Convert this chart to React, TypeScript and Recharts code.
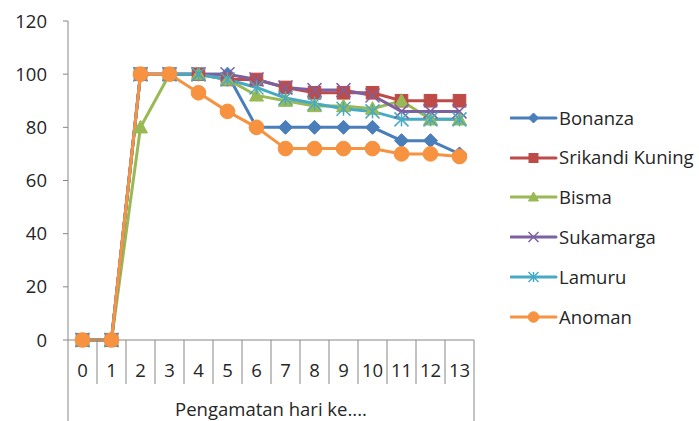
import React from 'react'
import { LineChart, Line, XAxis, YAxis, Legend } from 'recharts'

const days = ['0', '1', '2', '3', '4', '5', '6', '7', '8', '9', '10', '11', '12', '13']
const bonanza = [0, 0, 100, 100, 100, 100, 80, 80, 80, 80, 80, 75, 75, 70]
const srikandiKuning = [0, 0, 100, 100, 100, 98, 98, 95, 93, 93, 93, 90, 90, 90]
const bisma = [0, 0, 80, 100, 100, 98, 92, 90, 88, 88, 87, 90, 83, 83]
const sukamarga = [0, 0, 100, 100, 100, 100, 98, 95, 94, 94, 92, 86, 86, 86]
const lamuru = [0, 0, 100, 100, 100, 98, 95, 91, 89, 87, 86, 83, 83, 83]
const anoman = [0, 0, 100, 100, 93, 86, 80, 72, 72, 72, 72, 70, 70, 69]
const yTicks = [0, 20, 40, 60, 80, 100, 120]
const axisTitle = 'Pengamatan hari ke....'

type Shape = 'diamond' | 'square' | 'triangle' | 'x' | 'star' | 'circle'

const series: { key: string; name: string; color: string; shape: Shape; values: number[] }[] = [
    { key: 'bonanza', name: 'Bonanza', color: '#4A7EBB', shape: 'diamond', values: bonanza },
    { key: 'srikandi', name: 'Srikandi Kuning', color: '#BE4B48', shape: 'square', values: srikandiKuning },
    { key: 'bisma', name: 'Bisma', color: '#98B954', shape: 'triangle', values: bisma },
    { key: 'sukamarga', name: 'Sukamarga', color: '#7D60A0', shape: 'x', values: sukamarga },
    { key: 'lamuru', name: 'Lamuru', color: '#46AAC5', shape: 'star', values: lamuru },
    { key: 'anoman', name: 'Anoman', color: '#F69240', shape: 'circle', values: anoman },
]

const data = days.map((day, i) => {
    const row: Record<string, string | number> = { day }
    series.forEach((s) => {
        row[s.key] = s.values[i]
    })
    return row
})

const FONT = '"Open Sans", "Noto Sans", sans-serif'
const FONT_SIZE = 18.5
const TEXT = '#262626'
const AXIS = '#868686'
const WIDTH = 699
const HEIGHT = 421
const LEGEND_W = 189
// legend width gets added to the right offset by recharts
const MARGIN = { top: 21, right: 225 - LEGEND_W, left: 0, bottom: 0 }
const Y_WIDTH = 68
const X_HEIGHT = 81
const band = (WIDTH - 225 - Y_WIDTH) / days.length

function Marker({ shape, color, cx, cy, r }: { shape: Shape; color: string; cx: number; cy: number; r: number }) {
    switch (shape) {
        case 'diamond':
            return <path d={`M${cx},${cy - r} L${cx + r},${cy} L${cx},${cy + r} L${cx - r},${cy} Z`} fill={color} stroke={color} />
        case 'square':
            return <rect x={cx - r * 0.9} y={cy - r * 0.9} width={r * 1.8} height={r * 1.8} fill={color} stroke={color} />
        case 'triangle':
            return <path d={`M${cx},${cy - r} L${cx + r},${cy + r * 0.8} L${cx - r},${cy + r * 0.8} Z`} fill={color} stroke={color} />
        case 'x':
            return (
                <g stroke={color} strokeWidth={1.5}>
                    <line x1={cx - r} y1={cy - r} x2={cx + r} y2={cy + r} />
                    <line x1={cx - r} y1={cy + r} x2={cx + r} y2={cy - r} />
                </g>
            )
        case 'star':
            return (
                <g stroke={color} strokeWidth={1.5}>
                    <line x1={cx - r} y1={cy - r} x2={cx + r} y2={cy + r} />
                    <line x1={cx - r} y1={cy + r} x2={cx + r} y2={cy - r} />
                    <line x1={cx} y1={cy - r} x2={cx} y2={cy + r} />
                </g>
            )
        default:
            return <circle cx={cx} cy={cy} r={r * 1.05} fill={color} stroke={color} />
    }
}

function DayTick(props: any) {
    const { x, y, payload, index } = props
    const left = x - band / 2
    const right = x + band / 2
    return (
        <g>
            <line x1={left} x2={left} y1={y} y2={index === 0 ? HEIGHT : y + 44} stroke={AXIS} />
            {index === days.length - 1 && <line x1={right} x2={right} y1={y} y2={HEIGHT} stroke={AXIS} />}
            <text x={x} y={y + 36.5} textAnchor="middle" fill={TEXT} fontSize={FONT_SIZE} fontFamily={FONT}>
                {payload.value}
            </text>
        </g>
    )
}

function LegendList() {
    return (
        <div style={{ fontFamily: FONT, fontSize: FONT_SIZE, color: TEXT, lineHeight: 1 }}>
            {series.map((s) => (
                <div key={s.key} style={{ display: 'flex', alignItems: 'center', height: 39.8 }}>
                    <svg width={48} height={20} style={{ display: 'block' }}>
                        <line x1={1} x2={46} y1={10} y2={10} stroke={s.color} strokeWidth={3} strokeLinecap="round" />
                        <Marker shape={s.shape} color={s.color} cx={23.5} cy={10} r={5} />
                    </svg>
                    <span style={{ marginLeft: 1 }}>{s.name}</span>
                </div>
            ))}
        </div>
    )
}

export default function App() {
    return (
        <div style={{ position: 'absolute', left: 0, top: 0, background: '#fff' }}>
            <LineChart width={WIDTH} height={HEIGHT} data={data} margin={MARGIN}>
                <XAxis
                    dataKey="day"
                    scale="band"
                    height={X_HEIGHT}
                    stroke={AXIS}
                    tickLine={false}
                    tickSize={0}
                    tickMargin={0}
                    interval={0}
                    tick={<DayTick />}
                    label={{ value: axisTitle, position: 'insideBottom', offset: 5, fill: TEXT, fontSize: FONT_SIZE, fontFamily: FONT }}
                />
                <YAxis
                    domain={[0, 120]}
                    ticks={yTicks}
                    width={Y_WIDTH}
                    stroke={AXIS}
                    tickSize={5}
                    tickMargin={16}
                    tick={{ fill: TEXT, fontSize: FONT_SIZE, fontFamily: FONT }}
                />
                <Legend
                    layout="vertical"
                    align="right"
                    verticalAlign="middle"
                    content={<LegendList />}
                    wrapperStyle={{ left: 510, top: 98, width: LEGEND_W }}
                />
                {series.map((s) => (
                    <Line
                        key={s.key}
                        dataKey={s.key}
                        name={s.name}
                        stroke={s.color}
                        strokeWidth={3}
                        isAnimationActive={false}
                        dot={(p: any) => <Marker key={`${s.key}-${p.index}`} shape={s.shape} color={s.color} cx={p.cx} cy={p.cy} r={7} />}
                        activeDot={false}
                    />
                ))}
            </LineChart>
        </div>
    )
}
